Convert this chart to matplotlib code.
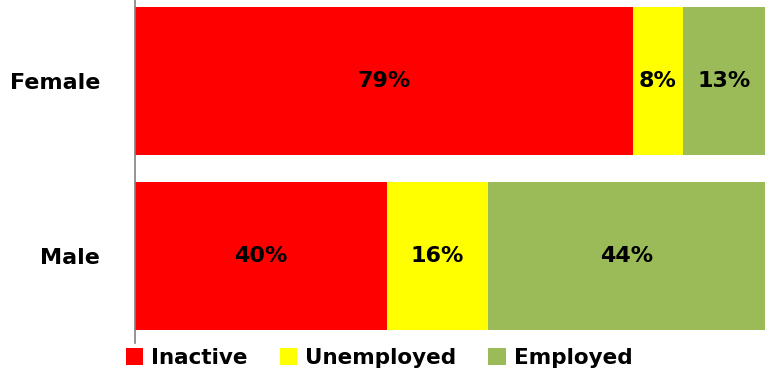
import matplotlib.pyplot as plt
import numpy as np

groups = ['Male', 'Female']
status = ['Inactive', 'Unemployed', 'Employed']
inactive = [40, 79]
unemployed = [16, 8]
employed = [44, 13]
colors = ['#FF0000', '#FFFF00', '#9BBB59']

plt.rcParams['font.family'] = ['DejaVu Sans']

fig = plt.figure(figsize=(7.65, 3.78), dpi=100)
ax = fig.add_axes([135 / 765, 35 / 378, 630 / 765, 343 / 378])

y = np.arange(len(groups))
left = np.zeros(len(groups))
for name, vals, col in zip(status, [inactive, unemployed, employed], colors):
    ax.barh(y, vals, left=left, height=0.848, color=col, label=name)
    for yi, (l, v) in enumerate(zip(left, vals)):
        ax.text(l + v / 2, yi, f'{v}%', ha='center', va='center',
                fontsize=16, fontweight='bold', color='black')
    left += np.array(vals)

ax.set_xlim(0, 100)
ax.set_ylim(-0.501, 1.464)
ax.set_yticks(y)
ax.set_yticklabels(groups, fontsize=16, fontweight='bold')
ax.tick_params(axis='y', length=0, pad=25)
ax.set_xticks([])
for side in ['top', 'right', 'bottom']:
    ax.spines[side].set_visible(False)
ax.spines['left'].set_color('#808080')
ax.spines['left'].set_linewidth(1.2)

leg = fig.legend(loc='center', bbox_to_anchor=(379 / 765, 1 - 358 / 378), ncol=3,
                 frameon=False, handlelength=0.82, handleheight=0.82,
                 handletextpad=0.35, columnspacing=1.5,
                 prop={'size': 15.5, 'weight': 'bold'})

fig.savefig('out.png', dpi=100)
